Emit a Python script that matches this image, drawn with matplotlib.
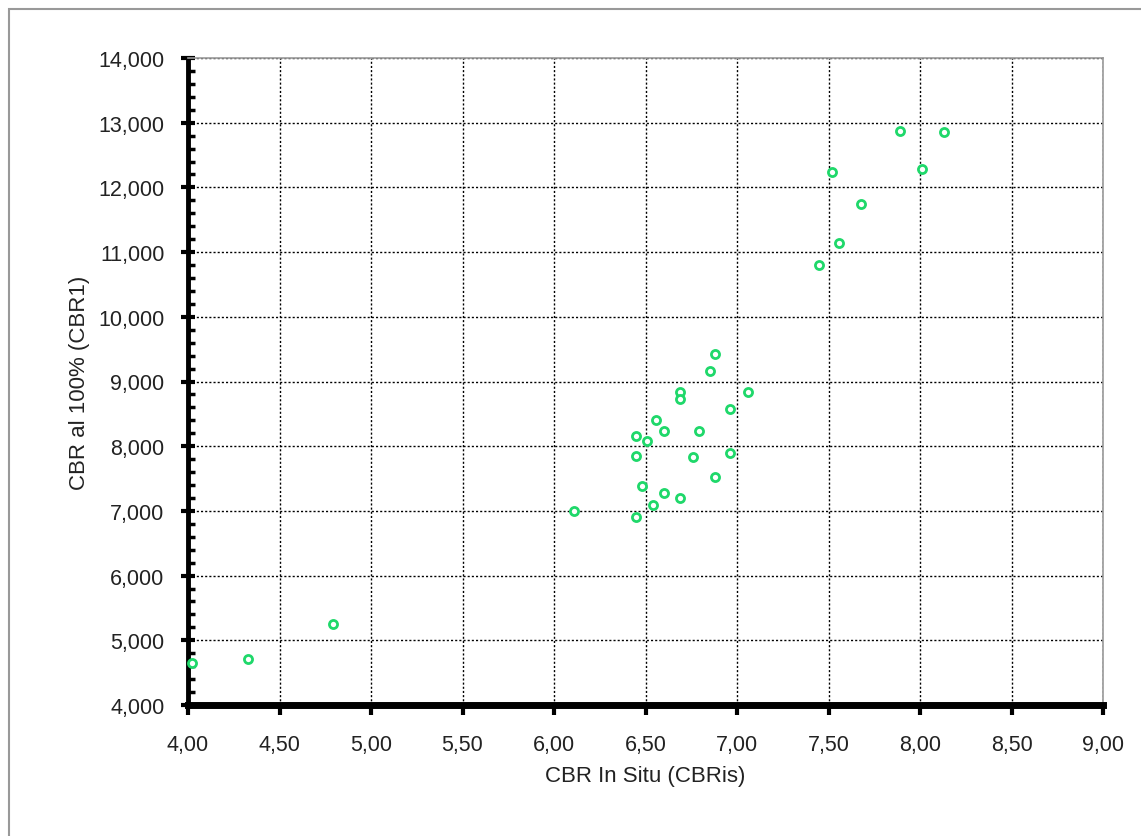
import matplotlib
matplotlib.use("Agg")
import matplotlib.pyplot as plt
from matplotlib.ticker import MultipleLocator, FuncFormatter
from matplotlib.patches import Rectangle
from matplotlib import font_manager

cbr_in_situ = [4.02, 4.33, 4.79, 6.11, 6.45, 6.45, 6.45, 6.48, 6.51, 6.54, 6.56,
               6.60, 6.60, 6.69, 6.69, 6.69, 6.76, 6.79, 6.85, 6.88, 6.88, 6.96,
               6.96, 7.06, 7.45, 7.52, 7.56, 7.68, 7.89, 8.01, 8.13]
cbr_100 = [4654, 4716, 5252, 6994, 6906, 7849, 8150, 7385, 8076, 7096, 8405,
           8240, 7277, 8833, 8730, 7195, 7833, 8240, 9157, 9430, 7519, 8570,
           7890, 8833, 10805, 12238, 11145, 11743, 12867, 12280, 12851]

x_label = "CBR In Situ (CBRis)"
y_label = "CBR al 100% (CBR1)"

names = {f.name for f in font_manager.fontManager.ttflist}
fam = "Liberation Sans Narrow" if "Liberation Sans Narrow" in names else "Liberation Sans"
plt.rcParams['font.family'] = [fam, 'DejaVu Sans']

fig = plt.figure(figsize=(11.41, 8.37), dpi=100)
fig.patches.append(Rectangle((9/1141, -0.05), 1.2, 1 - 10/837 + 0.05,
                             transform=fig.transFigure, fill=False,
                             edgecolor='#999999', linewidth=1.5))
ax = fig.add_axes([188/1141, 1 - 706/837, (1103 - 188)/1141, (706 - 59)/837])

ax.scatter(cbr_in_situ, cbr_100, s=34, facecolor='white', edgecolor='#1fd86a',
           linewidths=2.0, zorder=3, clip_on=False)

ax.set_xlim(4, 9)
ax.set_ylim(4000, 14000)
ax.xaxis.set_major_locator(MultipleLocator(0.5))
ax.yaxis.set_major_locator(MultipleLocator(1000))
ax.yaxis.set_minor_locator(MultipleLocator(200))
ax.xaxis.set_major_formatter(FuncFormatter(lambda v, p: f"{v:.2f}".replace('.', ',')))
ax.yaxis.set_major_formatter(FuncFormatter(lambda v, p: f"{v:,.0f}"))

ax.grid(True, which='major', color='black', linestyle=(0, (1.5, 1.5)), linewidth=1.0)
ax.set_axisbelow(True)

for s in ['top', 'right']:
    ax.spines[s].set_color('#999999')
    ax.spines[s].set_linewidth(1.2)
ax.spines['left'].set_linewidth(3.5)
ax.spines['bottom'].set_linewidth(5)

ax.tick_params(axis='y', which='major', direction='inout', length=10, width=3,
               labelsize=15.5, pad=12, colors='black')
ax.tick_params(axis='y', which='minor', direction='in', length=5, width=2.5)
ax.tick_params(axis='x', which='major', direction='out', length=7, width=3,
               labelsize=15.5, pad=14)
for lbl in ax.get_xticklabels() + ax.get_yticklabels():
    lbl.set_color('#222222')

ax.set_xlabel(x_label, fontsize=16, color='#222222', labelpad=7)
ax.set_ylabel(y_label, fontsize=16, color='#222222', labelpad=6)

fig.savefig("out.png", dpi=100)
